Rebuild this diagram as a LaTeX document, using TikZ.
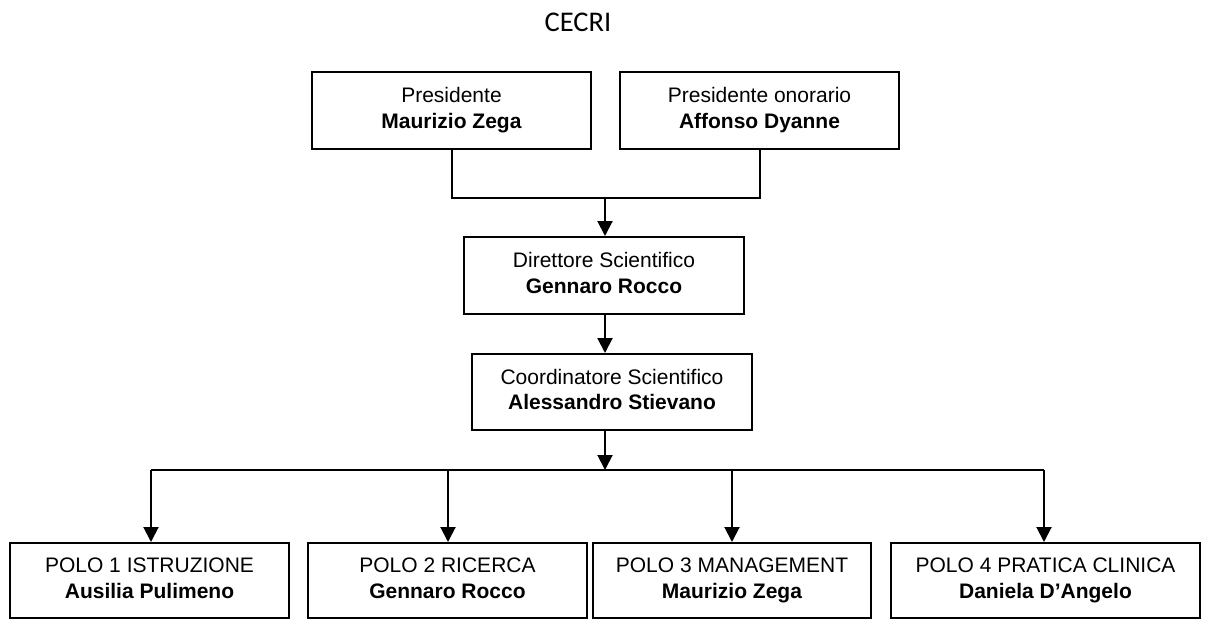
\documentclass[tikz,border=0pt]{standalone}
\usepackage{fontspec}
\setmainfont{Liberation Sans}
\newfontfamily\titlefont{Carlito}
\usetikzlibrary{arrows.meta}
\begin{document}
\begin{tikzpicture}[x=1pt,y=-1pt,
  box/.style={draw=black,line width=2pt,fill=white,inner sep=0pt,
    minimum height=77pt,align=center,
    font=\fontsize{21}{25.6}\selectfont},
  conn/.style={line width=2pt,draw=black},
  arr/.style={conn,-{Triangle[width=15pt,length=15pt]}}]
\useasboundingbox (0,0) rectangle (1205,619);
\node[font=\titlefont\fontsize{28.5}{30}\selectfont] (title) at (578,22) {CECRI};
\node[box,minimum width=279pt] (pres) at (451.5,110.5) {Presidente\strut\\\textbf{Maurizio Zega}\strut};
\node[box,minimum width=279pt] (onor) at (759.5,110.5) {Presidente onorario\strut\\\textbf{Affonso Dyanne}\strut};
\node[box,minimum width=280pt] (dir) at (604,275.5) {Direttore Scientifico\strut\\\textbf{Gennaro Rocco}\strut};
\node[box,minimum width=280pt,minimum height=76pt] (coord) at (612,392) {Coordinatore Scientifico\strut\\\textbf{Alessandro Stievano}\strut};
\node[box,minimum width=279pt,minimum height=75pt] (p1) at (149.5,580.5) {POLO 1 ISTRUZIONE\strut\\\textbf{Ausilia Pulimeno}\strut};
\node[box,minimum width=279pt,minimum height=75pt] (p2) at (447.5,580.5) {POLO 2 RICERCA\strut\\\textbf{Gennaro Rocco}\strut};
\node[box,minimum width=278pt,minimum height=75pt] (p3) at (732,580.5) {POLO 3 MANAGEMENT\strut\\\textbf{Maurizio Zega}\strut};
\node[box,minimum width=309pt,minimum height=75pt] (p4) at (1045.5,580.5) {POLO 4 PRATICA CLINICA\strut\\\textbf{Daniela D’Angelo}\strut};
% top join
\coordinate (j1) at (605,198);
\draw[conn] (pres.south) |- (j1) -| (onor.south);
\draw[arr] (j1) -- (dir.north -| j1);
\draw[arr] (dir.south -| j1) -- (coord.north -| j1);
% bottom bus
\coordinate (bus) at (605,470);
\coordinate (busL) at (151,470);
\coordinate (busR) at (1044,470);
\draw[arr] (coord.south -| bus) -- (bus);
\draw[conn] (busL) -- (busR);
\draw[arr] (busL) -- (p1.north -| busL);
\draw[arr] (448,470) -- (p2.north -| 448,470);
\draw[arr] (732,470) -- (p3.north);
\draw[arr] (busR) -- (p4.north -| busR);
\end{tikzpicture}
\end{document}
